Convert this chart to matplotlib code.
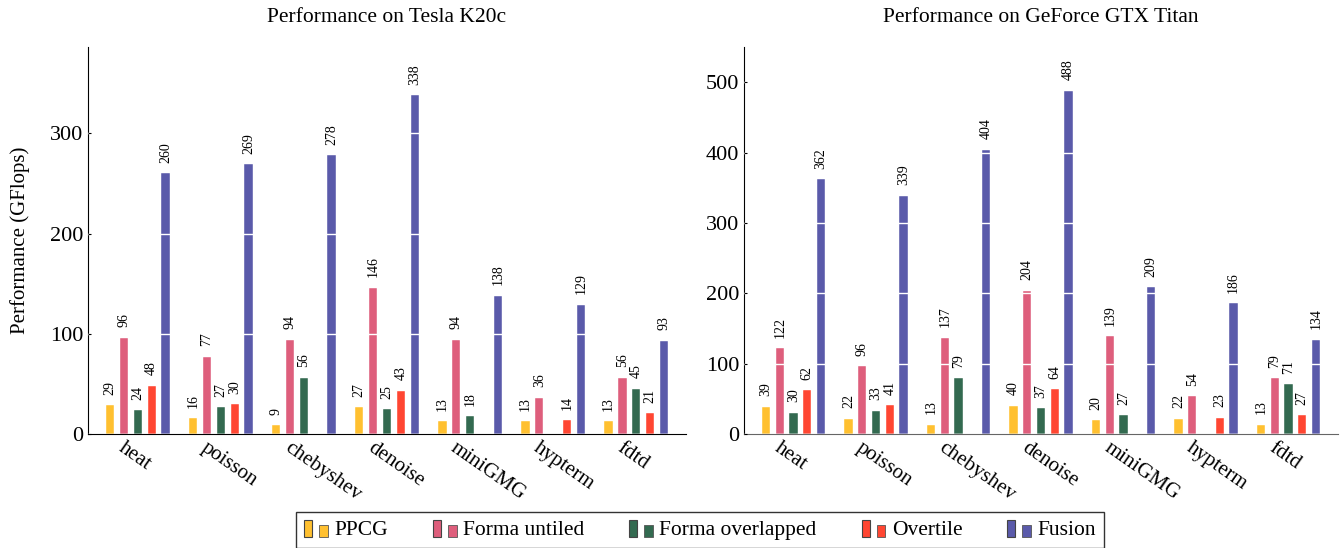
import matplotlib.pyplot as plt
import matplotlib.patches as mpatches
import matplotlib.transforms as mtransforms
import numpy as np

plt.rcParams['font.family'] = ['Liberation Serif', 'DejaVu Serif']

benchmarks = ["heat", "poisson", "chebyshev", "denoise", "miniGMG", "hypterm", "fdtd"]
series = ["PPCG", "Forma untiled", "Forma overlapped", "Overtile", "Fusion"]
colors = ["#FFC030", "#DE5E7C", "#336A50", "#FF4632", "#5A5AAA"]

# K20c, one list per series (None = no bar)
k20_ppcg = [29, 16, 9, 27, 13, 13, 13]
k20_untiled = [96, 77, 94, 146, 94, 36, 56]
k20_overlapped = [24, 27, 56, 25, 18, None, 45]
k20_overtile = [48, 30, None, 43, None, 14, 21]
k20_fusion = [260, 269, 278, 338, 138, 129, 93]

# GTX Titan
titan_ppcg = [39, 22, 13, 40, 20, 22, 13]
titan_untiled = [122, 96, 137, 204, 139, 54, 79]
titan_overlapped = [30, 33, 79, 37, 27, None, 71]
titan_overtile = [62, 41, None, 64, None, 23, 27]
titan_fusion = [362, 339, 404, 488, 209, 186, 134]

k20 = [k20_ppcg, k20_untiled, k20_overlapped, k20_overtile, k20_fusion]
titan = [titan_ppcg, titan_untiled, titan_overlapped, titan_overtile, titan_fusion]


class TwoBoxHandler:
    # legend key: a tall outlined box and a smaller square next to it
    def __init__(self, color):
        self.color = color

    def legend_artist(self, legend, orig_handle, fontsize, handlebox):
        x0, y0 = -handlebox.xdescent, -handlebox.ydescent
        tr = handlebox.get_transform()
        r1 = mpatches.Rectangle((x0, y0 - 1.5), 5.8, 12.2, fc=self.color, ec='#444444',
                                lw=0.8, transform=tr)
        r2 = mpatches.Rectangle((x0 + 10.8, y0 - 1.5), 6.3, 8.6, fc=self.color, ec='#555555',
                                lw=0.6, transform=tr)
        handlebox.add_artist(r1)
        handlebox.add_artist(r2)
        return r1


def draw(ax, data, title, ymax, yticks, spine_col):
    x = np.arange(len(benchmarks))
    for i, vals in enumerate(data):
        off = (i - 2) / 6.0
        for j, v in enumerate(vals):
            if v is None:
                continue
            ax.bar(x[j] + off, v, width=0.1, color=colors[i], edgecolor='white',
                   linewidth=0.3, zorder=1)
            ax.text(x[j] + off, v + ymax * 0.027, str(v), rotation=90, ha='center',
                    va='bottom', fontsize=10, zorder=4)
    ax.set_xlim(-0.6, 6.6)
    ax.set_ylim(0, ymax)
    ax.set_yticks(yticks)
    ax.tick_params(axis='y', direction='in', length=2, labelsize=16)
    ax.tick_params(axis='x', length=0, labelsize=15, pad=3)
    ax.set_xticks(x)
    ax.set_xticklabels(benchmarks, rotation=-35, ha='left', va='top', rotation_mode='anchor')
    shift = mtransforms.ScaledTranslation(-12 / 100, 0, fig.dpi_scale_trans)
    for lab in ax.get_xticklabels():
        lab.set_transform(lab.get_transform() + shift)
    ax.grid(axis='y', color='white', lw=1)
    ax.set_axisbelow(False)
    for s in ['top', 'right']:
        ax.spines[s].set_visible(False)
    ax.spines['bottom'].set_color(spine_col)
    ax.set_title(title, fontsize=15.5, pad=18)


fig = plt.figure(figsize=(13.41, 5.48), dpi=100)
ax1 = fig.add_axes([0.0656, 0.208, 0.446, 0.706])
ax2 = fig.add_axes([0.5548, 0.208, 0.443, 0.706])

draw(ax1, k20, "Performance on Tesla K20c", 386, [0, 100, 200, 300], 'black')
draw(ax2, titan, "Performance on GeForce GTX Titan", 550, [0, 100, 200, 300, 400, 500], '#666666')
ax1.set_ylabel("Performance (GFlops)", fontsize=15, labelpad=14)

handles = [mpatches.Patch(color=c, label=s) for c, s in zip(colors, series)]
leg = fig.legend(handles=handles, loc='upper center', bbox_to_anchor=(0.522, 0.066), ncol=5,
                 fontsize=15.5, frameon=True, fancybox=False, edgecolor='black',
                 handler_map={h: TwoBoxHandler(c) for h, c in zip(handles, colors)},
                 handlelength=1.12, handletextpad=0.28, columnspacing=2.09,
                 borderpad=0.37, borderaxespad=0)
leg.get_frame().set_linewidth(1)

fig.savefig("out.png", dpi=100)
